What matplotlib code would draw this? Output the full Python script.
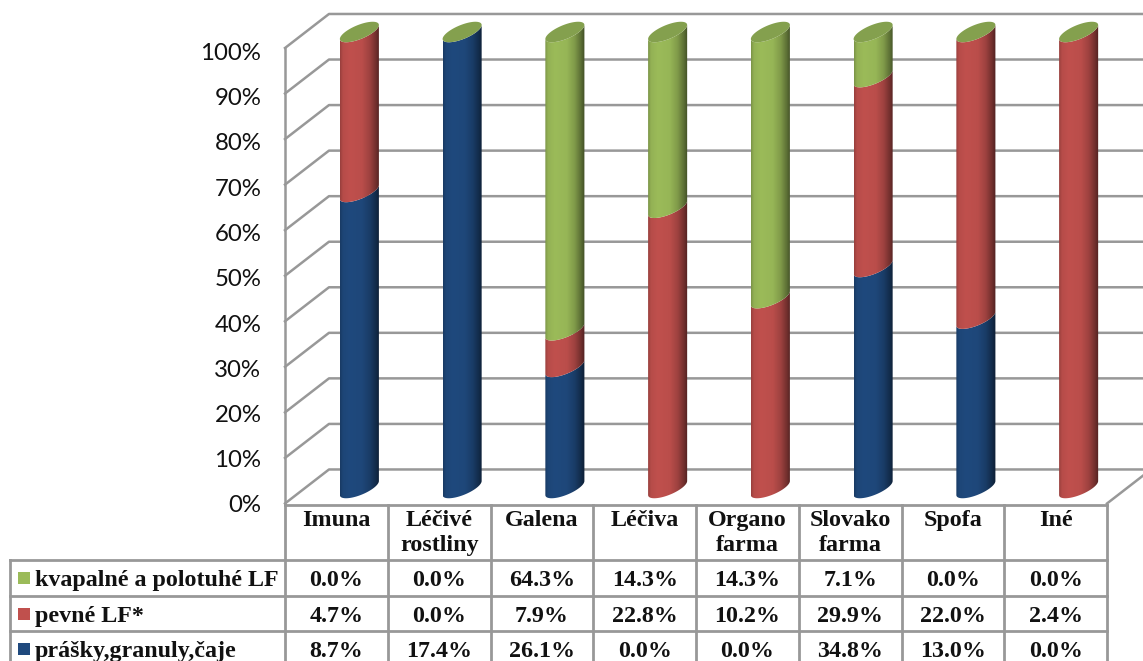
import numpy as np
import matplotlib
matplotlib.use("Agg")
import matplotlib.pyplot as plt
from matplotlib.patches import Polygon, Rectangle
from matplotlib.transforms import ScaledTranslation

# Shares per producer, in percent
categories = ["Imuna", "Léčivé\nrostliny", "Galena", "Léčiva", "Organo\nfarma",
              "Slovako\nfarma", "Spofa", "Iné"]
powders = [8.7, 17.4, 26.1, 0.0, 0.0, 34.8, 13.0, 0.0]
solids = [4.7, 0.0, 7.9, 22.8, 10.2, 29.9, 22.0, 2.4]
liquids = [0.0, 0.0, 64.3, 14.3, 14.3, 7.1, 0.0, 0.0]
series_names = ["kvapalné a polotuhé LF", "pevné LF*", "prášky,granuly,čaje"]
y_ticks = list(range(0, 101, 10))

BLUE, RED, GREEN = "#1F497D", "#C0504D", "#9BBB59"
CAP = "#84A04E"
GREY = "#989898"
SERIF = "Liberation Serif"

W, H = 1143, 661
fig = plt.figure(figsize=(W / 100, H / 100), dpi=100, facecolor="white")


def axes_px(x0, x1, y_top, y_bottom):
    return fig.add_axes([x0 / W, 1 - y_bottom / H, (x1 - x0) / W, (y_bottom - y_top) / H])


# Front plane of the chart box: carries the percent scale and the gridlines
ax_wall = axes_px(285, 1107, 48, 503.5)
ax_wall.set_xlim(0, 8)
ax_wall.set_ylim(0, 100)
ax_wall.patch.set_visible(False)
for s in ax_wall.spines.values():
    s.set_visible(False)
ax_wall.set_xticks([])
ax_wall.set_yticks(y_ticks)
ax_wall.set_yticklabels([f"{v}%" for v in y_ticks], fontfamily="Lato", fontsize=17.3,
                        color="#111111", va="center_baseline")
ax_wall.tick_params(axis="y", length=0, pad=17)
# Nudge the labels down a little more towards the top of the scale
for v, lab in zip(y_ticks, ax_wall.get_yticklabels()):
    drop_px = 0.5 + 3.0 * v / 100
    lab.set_transform(lab.get_transform() + ScaledTranslation(0, -drop_px / 100, fig.dpi_scale_trans))

DEPTH_X, DEPTH_Y = 0.428, 7.47
X_END = 8.36
line_style = dict(color=GREY, lw=1.8, clip_on=False, solid_capstyle="projecting", zorder=1)
for v in y_ticks:
    ax_wall.plot([0, DEPTH_X, X_END], [v, v + DEPTH_Y, v + DEPTH_Y], **line_style)
ax_wall.plot([0, 0], [0, 100], **line_style)
ax_wall.plot([8, X_END], [0, DEPTH_Y * (X_END - 8) / DEPTH_X], **line_style)

# Cylinders sit half way into the box; the value range leaves room for the ellipses
PAD = 5
ax_bars = axes_px(308, 1130, 32 - PAD * 4.56, 488 + PAD * 4.56)
ax_bars.axis("off")
ax_bars.patch.set_visible(False)

HALF_W = 0.19
TILT = 7 / 4.56
MINOR = 7.5 / 4.56
t = np.linspace(np.pi, 2 * np.pi, 60)

shade_x = [0.0, 0.07, 0.25, 0.55, 0.75, 0.9, 1.0]
shade_f = [0.80, 0.95, 1.0, 0.97, 0.82, 0.60, 0.42]
shade = np.interp(np.linspace(0, 1, 64), shade_x, shade_f)


def front_arc(cx, y):
    # Lower half of the tilted ellipse, running left to right
    return cx + HALF_W * np.cos(t), y + TILT * np.cos(t) + MINOR * np.sin(t)


def draw_segment(cx, y0, y1, color):
    xb, yb = front_arc(cx, y0)
    xt, yt = front_arc(cx, y1)
    outline = np.column_stack([np.r_[xb, xt[::-1]], np.r_[yb, yt[::-1]]])
    poly = Polygon(outline, closed=True, transform=ax_bars.transData, facecolor="none",
                   edgecolor="none")
    ax_bars.add_patch(poly)
    rgb = np.array(matplotlib.colors.to_rgb(color))
    strip = (shade[:, None] * rgb)[None, :, :]
    im = ax_bars.imshow(strip, extent=(cx - HALF_W, cx + HALF_W, y0 - 4, y1 + 4),
                        aspect="auto", interpolation="bilinear", zorder=3)
    im.set_clip_path(poly)


for i in range(len(categories)):
    cx = i + 0.5
    total = powders[i] + solids[i] + liquids[i]
    base = 0.0
    for value, color in zip((powders[i], solids[i], liquids[i]), (BLUE, RED, GREEN)):
        share = 100 * value / total
        if share > 0:
            draw_segment(cx, base, base + share, color)
            base += share
    # Top cap of the stack
    a = np.linspace(0, 2 * np.pi, 90)
    cap = np.column_stack([cx + HALF_W * np.cos(a),
                           100 + TILT * np.cos(a) + MINOR * np.sin(a)])
    ax_bars.add_patch(Polygon(cap, closed=True, facecolor=CAP, edgecolor="none", zorder=4))
ax_bars.set_xlim(0, 8)
ax_bars.set_ylim(-PAD, 100 + PAD)

# Data table below the chart, y measured in pixels from the top of the figure
ax_table = axes_px(285, 1107, 504, 666)
ax_table.set_xlim(0, 8)
ax_table.set_ylim(666, 504)
ax_table.axis("off")
ax_table.patch.set_visible(False)

row_edges = [504.5, 560, 595.5, 631, 666]
LEFT = (10 - 285) / 102.75
table_line = dict(color=GREY, lw=2.0, clip_on=False, zorder=2)
ax_table.plot([0, 8], [row_edges[0]] * 2, **table_line)
for e in row_edges[1:]:
    ax_table.plot([LEFT, 8], [e, e], **table_line)
for c in range(9):
    ax_table.plot([c, c], [row_edges[0], row_edges[-1]], **table_line)
ax_table.plot([LEFT, LEFT], [row_edges[1], row_edges[-1]], **table_line)

text_style = dict(family=SERIF, weight="bold", fontsize=17.3, color="#111111", clip_on=False)
for c, name in enumerate(categories):
    ax_table.text(c + 0.5, 510, name, ha="center", va="top", linespacing=1.28, **text_style)

rows = [liquids, solids, powders]
colors = [GREEN, RED, BLUE]
row_y = [578, 613.5, 649]
key_w = 12 / 102.75
for name, vals, col, y in zip(series_names, rows, colors, row_y):
    ax_table.add_patch(Rectangle(((18 - 285) / 102.75, y - 6), key_w, 12, facecolor=col,
                                 edgecolor="none", clip_on=False))
    ax_table.text((35 - 285) / 102.75, y, name, ha="left", va="center_baseline", **text_style)
    for c, v in enumerate(vals):
        ax_table.text(c + 0.5, y, f"{v:.1f}%", ha="center", va="center_baseline", **text_style)

fig.savefig("out.png", dpi=100)
